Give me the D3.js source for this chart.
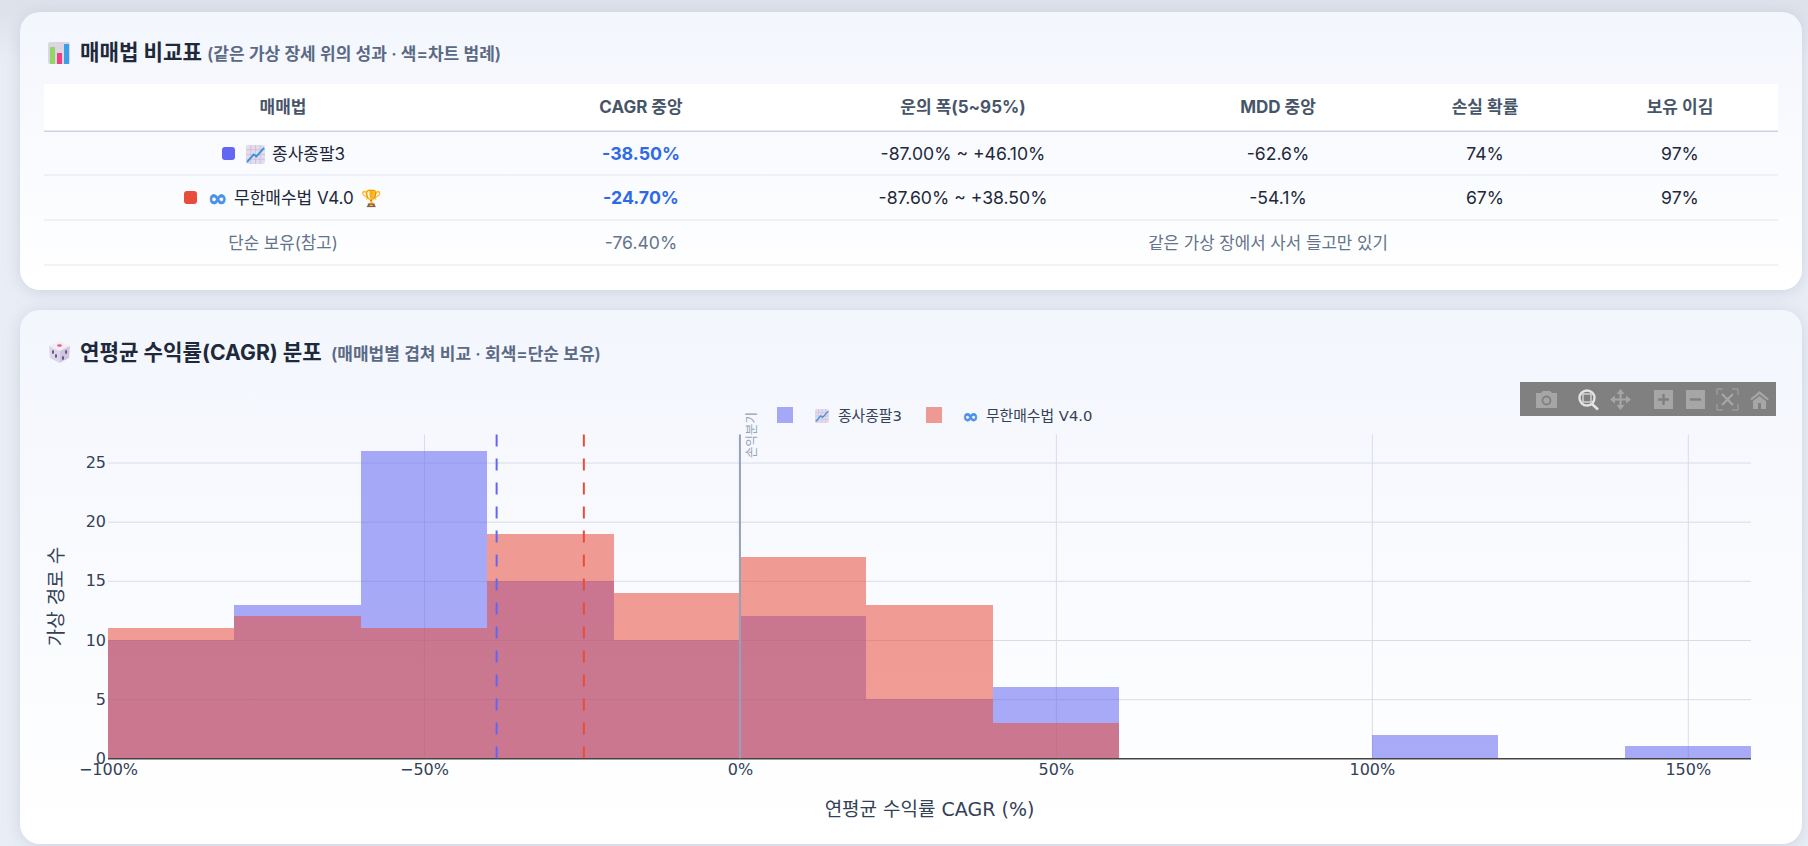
<!DOCTYPE html>
<html>
<head>
<meta charset="utf-8">
<script src="https://cdn.jsdelivr.net/npm/d3@7"></script>
<style>
  html, body { margin: 0; padding: 0; overflow: hidden; }
  body { background: linear-gradient(#dee2eb 0, #dee2eb 12px, #e9edf5 60px); height: 846px; }
  svg { display: block; }
  text { font-family: Inter, "Noto Sans CJK KR", sans-serif; }
  .plot text { font-family: "DejaVu Sans", "Noto Sans CJK KR", sans-serif; }
</style>
</head>
<body>
<div id="wrapper"></div>
<script>
// table
const tableHeaders = ["매매법", "CAGR 중앙", "운의 폭(5~95%)", "MDD 중앙", "손실 확률", "보유 이김"];
const tableRow1 = ["-38.50%", "-87.00% ~ +46.10%", "-62.6%", "74%", "97%"];
const tableRow2 = ["-24.70%", "-87.60% ~ +38.50%", "-54.1%", "67%", "97%"];
const holdLabel = "단순 보유(참고)";
const holdCagr = "-76.40%";
const holdNote = "같은 가상 장에서 사서 들고만 있기";

// histogram, 20% wide bins
const binStarts = [-100, -80, -60, -40, -20, 0, 20, 40, 60, 80, 100, 120, 140];
const countsJongsa = [10, 13, 26, 15, 10, 12, 5, 6, 0, 0, 2, 0, 1];
const countsInfinite = [11, 12, 11, 19, 14, 17, 13, 3, 0, 0, 0, 0, 0];
const binWidth = 20;
const medianJongsa = -38.5;
const medianInfinite = -24.7;
const xTicks = [-100, -50, 0, 50, 100, 150];
const yTicks = [0, 5, 10, 15, 20, 25];

const blue = "#6366f1", red = "#e74c3c", infinityBlue = "#4a90e8";

const width = 1808, height = 846;
const svg = d3.select("#wrapper").append("svg").attr("width", width).attr("height", height);

const defs = svg.append("defs");
const grad = defs.append("linearGradient").attr("id", "card").attr("x1", 0).attr("y1", 0).attr("x2", 0).attr("y2", 1);
grad.append("stop").attr("offset", 0).attr("stop-color", "#f3f6fd");
grad.append("stop").attr("offset", 1).attr("stop-color", "#ffffff");
const shadow = defs.append("filter").attr("id", "shadow").attr("x", "-5%").attr("y", "-10%").attr("width", "110%").attr("height", "120%");
shadow.append("feDropShadow").attr("dx", 0).attr("dy", 2).attr("stdDeviation", 8).attr("flood-color", "#94a3b8").attr("flood-opacity", 0.35);

function card(y, h) {
    svg.append("rect").attr("x", 20).attr("y", y).attr("width", 1782).attr("height", h)
        .attr("rx", 20).attr("fill", "url(#card)").attr("filter", "url(#shadow)");
}
card(12, 278);
card(310, 534);

// small emoji tiles, the emoji font here draws these differently
function chartIcon(x, y, s) {
    const g = svg.append("g").attr("transform", `translate(${x},${y}) scale(${s / 20})`);
    g.append("title").text("📈");
    g.append("rect").attr("width", 20).attr("height", 20).attr("rx", 2).attr("fill", "#e3dced");
    [5, 10, 15].forEach(p => {
        g.append("line").attr("x1", p).attr("x2", p).attr("y1", 0).attr("y2", 20).attr("stroke", "#c9bcd8").attr("stroke-width", 0.8);
        g.append("line").attr("y1", p).attr("y2", p).attr("x1", 0).attr("x2", 20).attr("stroke", "#c9bcd8").attr("stroke-width", 0.8);
    });
    g.append("path").attr("d", "M1,18 L8,10 L11,12 L19,3").attr("fill", "none").attr("stroke", "#3b94dc").attr("stroke-width", 2);
}
function barsIcon(x, y) {
    const g = svg.append("g").attr("transform", `translate(${x},${y})`);
    g.append("title").text("📊");
    g.append("rect").attr("width", 22).attr("height", 22).attr("rx", 2).attr("fill", "#dcd6e4");
    g.append("rect").attr("x", 2).attr("y", 5).attr("width", 5).attr("height", 17).attr("fill", "#8fd866");
    g.append("rect").attr("x", 9).attr("y", 11).attr("width", 5).attr("height", 11).attr("fill", "#ee3f7f");
    g.append("rect").attr("x", 16).attr("y", 2).attr("width", 5).attr("height", 20).attr("fill", "#3aa0e8");
}
function diceIcon(x, y) {
    const g = svg.append("g").attr("transform", `translate(${x},${y})`);
    g.append("title").text("🎲");
    g.append("path").attr("d", "M10.5,0 L21,5 L10.5,10 L0,5 Z").attr("fill", "#f3edf3");
    g.append("path").attr("d", "M0,5 L10.5,10 L10.5,22 L1,17 Z").attr("fill", "#ddd5e8");
    g.append("path").attr("d", "M21,5 L10.5,10 L10.5,22 L20,17 Z").attr("fill", "#cfc6dd");
    g.append("ellipse").attr("cx", 10.5).attr("cy", 4.5).attr("rx", 2.5).attr("ry", 1.2).attr("fill", "#ee5a86");
    [[4, 11], [7, 15], [14, 17], [17, 11]].forEach(p => {
        g.append("ellipse").attr("cx", p[0]).attr("cy", p[1]).attr("rx", 1).attr("ry", 2).attr("fill", "#5b4a8c");
    });
}

function heading(y, title, titleEnd, sub) {
    svg.append("text").attr("x", 80).attr("y", y).attr("dy", "0.35em")
        .style("font-size", "21.2px").style("font-weight", 700).attr("fill", "#1e293b").text(title);
    svg.append("text").attr("x", titleEnd).attr("y", y + 1).attr("dy", "0.35em")
        .style("font-size", "17px").style("font-weight", 600).attr("fill", "#5b6a84").text(sub);
}
barsIcon(48, 42);
heading(53, "매매법 비교표", 207, "(같은 가상 장세 위의 성과 · 색=차트 범례)");
diceIcon(49, 341);
heading(353, "연평균 수익률(CAGR) 분포", 331, "(매매법별 겹쳐 비교 · 회색=단순 보유)");

// comparison table
const colX = [283, 641, 963, 1278, 1485, 1680];
const table = svg.append("g");
table.append("rect").attr("x", 44).attr("y", 84).attr("width", 1734).attr("height", 47).attr("fill", "#ffffff");
table.append("rect").attr("x", 44).attr("y", 130.5).attr("width", 1734).attr("height", 1.5).attr("fill", "#cbd2e6");
[175, 220, 265].forEach(y => {
    table.append("rect").attr("x", 44).attr("y", y - 0.5).attr("width", 1734).attr("height", 1).attr("fill", "#e2e6f0");
});

function cell(x, y, s, opts = {}) {
    return table.append("text").attr("x", x).attr("y", y).attr("dy", "0.35em")
        .attr("text-anchor", opts.anchor || "middle")
        .style("font-size", (opts.size || 17.6) + "px")
        .style("font-weight", opts.weight || 400)
        .attr("fill", opts.fill || "#1e293b").text(s);
}
tableHeaders.forEach((h, i) => cell(colX[i], 107, h, { weight: 700, fill: "#475569", size: 17 }));

[[tableRow1, 154], [tableRow2, 198]].forEach(([row, y]) => {
    row.forEach((v, i) => {
        if (i === 0) cell(colX[1], y, v, { weight: 700, fill: "#2f6ae6", size: 17.8 });
        else cell(colX[i + 1], y, v);
    });
});
cell(colX[0], 243, holdLabel, { fill: "#64748b", size: 16.8 });
cell(colX[1], 243, holdCagr, { fill: "#64748b" });
cell(1268, 243, holdNote, { fill: "#64748b", size: 16.8 });

table.append("rect").attr("x", 222).attr("y", 147).attr("width", 13).attr("height", 13).attr("rx", 3).attr("fill", blue);
chartIcon(246, 145, 19);
cell(272, 154, "종사종팔3", { anchor: "start", size: 17 });
table.append("rect").attr("x", 184).attr("y", 191).attr("width", 13).attr("height", 13).attr("rx", 3).attr("fill", red);
cell(217.5, 198, "∞", { size: 23, weight: 700, fill: infinityBlue })
    .style("font-family", "DejaVu Sans").attr("stroke", infinityBlue).attr("stroke-width", 0.7);
cell(234, 198, "무한매수법 V4.0", { anchor: "start", size: 17 });
cell(361, 198, "🏆", { anchor: "start", size: 16.5 });

// histogram
const margin = { left: 108, right: 1751, top: 434.5, bottom: 758.3 };
const xScale = d3.scaleLinear().domain([-100, 160]).range([margin.left, margin.right]);
const yScale = d3.scaleLinear().domain([0, 27.37]).range([margin.bottom, margin.top]);

const plot = svg.append("g").attr("class", "plot");

const xGrid = plot.append("g").attr("transform", `translate(0,${margin.bottom})`)
    .call(d3.axisBottom(xScale).tickValues(xTicks).tickSize(-(margin.bottom - margin.top)).tickPadding(5)
        .tickFormat(d => (d < 0 ? "−" + Math.abs(d) : d) + "%"));
const yGrid = plot.append("g").attr("transform", `translate(${margin.left},0)`)
    .call(d3.axisLeft(yScale).tickValues(yTicks).tickSize(-(margin.right - margin.left)).tickPadding(2));
[xGrid, yGrid].forEach(g => {
    g.select(".domain").remove();
    g.selectAll(".tick line").attr("stroke", "#d9dce5").attr("stroke-width", 1);
    g.selectAll(".tick text").attr("fill", "#334155").style("font-size", "16px");
});
xGrid.select(".tick line").remove(); // no grid line on the left edge
yGrid.select(".tick line").attr("stroke", "#444444").attr("stroke-width", 1.5);

function bars(counts, color) {
    plot.append("g").selectAll("rect")
        .data(binStarts.map((b, i) => ({ start: b, count: counts[i] })).filter(d => d.count > 0))
        .enter()
        .append("rect")
        .attr("x", d => xScale(d.start))
        .attr("width", d => xScale(d.start + binWidth) - xScale(d.start))
        .attr("y", d => yScale(d.count))
        .attr("height", d => yScale(0) - yScale(d.count))
        .attr("shape-rendering", "crispEdges")
        .attr("fill", color)
        .attr("fill-opacity", 0.55);
}
bars(countsJongsa, blue);
bars(countsInfinite, red);

function vLine(v, color, dash) {
    plot.append("line")
        .attr("x1", xScale(v)).attr("x2", xScale(v))
        .attr("y1", margin.top).attr("y2", margin.bottom)
        .attr("stroke", color).attr("stroke-width", 2)
        .attr("stroke-dasharray", dash);
}
vLine(0, "#94a3b8", null);
vLine(medianJongsa, blue, "12,12");
vLine(medianInfinite, red, "12,12");

plot.append("text")
    .attr("transform", `translate(${xScale(0) + 16.5},435) rotate(-90)`)
    .attr("text-anchor", "middle").attr("fill", "#94a3b8")
    .style("font-size", "12.5px").text("손익분기");

plot.append("text").attr("x", (margin.left + margin.right) / 2).attr("y", 809).attr("dy", "0.35em")
    .attr("text-anchor", "middle").attr("fill", "#334155").style("font-size", "19px").text("연평균 수익률 CAGR (%)");
plot.append("text").attr("transform", `translate(56,${(margin.top + margin.bottom) / 2}) rotate(-90)`).attr("dy", "0.35em")
    .attr("text-anchor", "middle").attr("fill", "#334155").style("font-size", "19px").text("가상 경로 수");

// legend
const legend = plot.append("g");
legend.append("rect").attr("x", 777).attr("y", 407).attr("width", 16).attr("height", 16).attr("fill", blue).attr("fill-opacity", 0.55);
chartIcon(815, 409, 14);
legend.append("text").attr("x", 838).attr("y", 416).attr("dy", "0.35em").attr("fill", "#334155").style("font-size", "14.8px").text("종사종팔3");
legend.append("rect").attr("x", 926).attr("y", 407).attr("width", 16).attr("height", 16).attr("fill", red).attr("fill-opacity", 0.55);
legend.append("text").attr("x", 970.5).attr("y", 416).attr("dy", "0.35em").attr("text-anchor", "middle")
    .attr("fill", infinityBlue).attr("stroke", infinityBlue).attr("stroke-width", 0.6)
    .style("font-size", "19px").style("font-weight", 700).text("∞");
legend.append("text").attr("x", 986).attr("y", 416).attr("dy", "0.35em").attr("fill", "#334155").style("font-size", "14.8px").text("무한매수법 V4.0");

// modebar
const dim = "#a6a6a6", lit = "#e4e4e4", barBg = "#808080";
const bar = svg.append("g");
bar.append("rect").attr("x", 1520).attr("y", 382).attr("width", 256).attr("height", 34).attr("fill", barBg);
// camera
bar.append("path").attr("d", "M1536,393 h5 l2,-2 h7 l2,2 h5 v15 h-21 Z").attr("fill", dim);
bar.append("circle").attr("cx", 1546.5).attr("cy", 400.5).attr("r", 4).attr("fill", "none").attr("stroke", barBg).attr("stroke-width", 1.8);
// zoom box
bar.append("circle").attr("cx", 1587).attr("cy", 398).attr("r", 7.5).attr("fill", "none").attr("stroke", lit).attr("stroke-width", 2.4);
bar.append("rect").attr("x", 1583).attr("y", 394).attr("width", 8).attr("height", 8).attr("fill", barBg).attr("stroke", lit).attr("stroke-width", 1.2);
bar.append("line").attr("x1", 1592).attr("y1", 404).attr("x2", 1598).attr("y2", 409.5).attr("stroke", lit).attr("stroke-width", 2.6);
// pan
bar.append("path").attr("d", "M1614,399.5 h13 M1620.5,393 v13").attr("stroke", dim).attr("stroke-width", 2.2).attr("fill", "none");
bar.append("path").attr("d", "M1615,395.5 l-5,4 l5,4 Z M1626,395.5 l5,4 l-5,4 Z M1616.5,394 l4,-5 l4,5 Z M1616.5,405 l4,5 l4,-5 Z").attr("fill", dim);
// zoom in, zoom out
bar.append("rect").attr("x", 1654).attr("y", 390).attr("width", 19).attr("height", 19).attr("fill", dim);
bar.append("path").attr("d", "M1658,399.5 h11 M1663.5,394 v11").attr("stroke", barBg).attr("stroke-width", 2.4);
bar.append("rect").attr("x", 1686).attr("y", 390).attr("width", 19).attr("height", 19).attr("fill", dim);
bar.append("path").attr("d", "M1690,399.5 h11").attr("stroke", barBg).attr("stroke-width", 2.4);
// autoscale
bar.append("path").attr("d", "M1717,395 v-6 h6 M1732,389 h6 v6 M1738,404 v6 h-6 M1723,410 h-6 v-6").attr("fill", "none").attr("stroke", dim).attr("stroke-width", 1);
bar.append("path").attr("d", "M1722,394 L1733,405 M1733,394 L1722,405").attr("stroke", dim).attr("stroke-width", 2.2);
// home
bar.append("path").attr("d", "M1750,399 L1759.5,391 L1769,399 L1767,400 L1759.5,394 L1752,400 Z M1753,401 L1759.5,396 L1766,401 V409 H1761 V403 H1758 V409 H1753 Z").attr("fill", dim);
</script>
</body>
</html>
